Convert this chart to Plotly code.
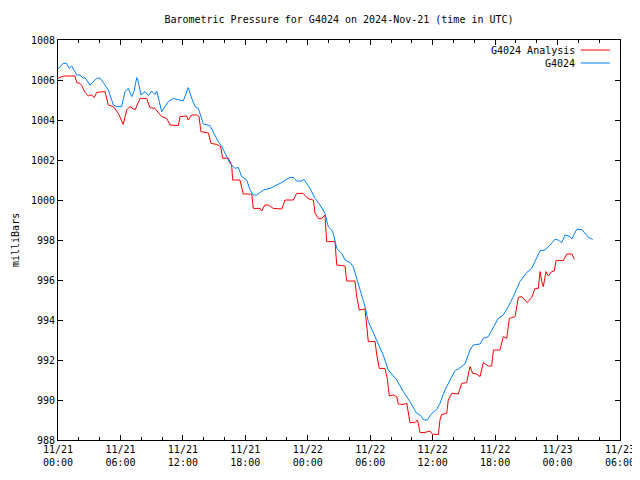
import pandas as pd
import plotly.graph_objects as go

title_text = "Barometric Pressure for G4024 on 2024-Nov-21 (time in UTC)"
y_title = "milliBars"
name_analysis = "G4024 Analysis"
name_station = "G4024"

station_times = [
    "2024-11-21 00:00", "2024-11-21 00:30", "2024-11-21 00:50", "2024-11-21 01:04", "2024-11-21 01:19",
    "2024-11-21 01:48", "2024-11-21 02:07", "2024-11-21 02:26", "2024-11-21 02:36", "2024-11-21 03:04",
    "2024-11-21 03:43", "2024-11-21 04:02", "2024-11-21 04:31", "2024-11-21 04:50", "2024-11-21 05:19",
    "2024-11-21 05:38", "2024-11-21 06:07", "2024-11-21 06:26", "2024-11-21 06:45", "2024-11-21 07:05",
    "2024-11-21 07:18", "2024-11-21 07:34", "2024-11-21 07:43", "2024-11-21 07:58", "2024-11-21 08:22",
    "2024-11-21 08:41", "2024-11-21 09:00", "2024-11-21 09:19", "2024-11-21 09:29", "2024-11-21 09:58",
    "2024-11-21 10:36", "2024-11-21 11:05", "2024-11-21 12:02", "2024-11-21 12:31", "2024-11-21 12:51",
    "2024-11-21 13:10", "2024-11-21 13:29", "2024-11-21 13:39", "2024-11-21 13:58", "2024-11-21 14:36",
    "2024-11-21 15:05", "2024-11-21 15:24", "2024-11-21 15:44", "2024-11-21 16:03", "2024-11-21 16:32",
    "2024-11-21 17:00", "2024-11-21 17:19", "2024-11-21 17:39", "2024-11-21 18:08", "2024-11-21 18:27",
    "2024-11-21 18:46", "2024-11-21 19:05", "2024-11-21 19:44", "2024-11-21 20:22", "2024-11-21 21:20",
    "2024-11-21 22:17", "2024-11-21 22:37", "2024-11-21 22:56", "2024-11-21 23:25", "2024-11-21 23:38",
    "2024-11-22 00:13", "2024-11-22 00:42", "2024-11-22 01:11", "2024-11-22 01:39", "2024-11-22 01:58",
    "2024-11-22 02:18", "2024-11-22 02:27", "2024-11-22 02:47", "2024-11-22 03:16", "2024-11-22 03:35",
    "2024-11-22 04:04", "2024-11-22 04:22", "2024-11-22 04:42", "2024-11-22 05:11", "2024-11-22 05:30",
    "2024-11-22 05:49", "2024-11-22 06:18", "2024-11-22 06:47", "2024-11-22 07:15", "2024-11-22 07:44",
    "2024-11-22 08:33", "2024-11-22 09:11", "2024-11-22 09:49", "2024-11-22 10:28", "2024-11-22 10:47",
    "2024-11-22 10:57", "2024-11-22 11:10", "2024-11-22 11:29", "2024-11-22 11:55", "2024-11-22 12:23",
    "2024-11-22 12:42", "2024-11-22 13:11", "2024-11-22 13:40", "2024-11-22 14:09", "2024-11-22 14:28",
    "2024-11-22 15:06", "2024-11-22 15:35", "2024-11-22 15:54", "2024-11-22 16:33", "2024-11-22 16:52",
    "2024-11-22 17:21", "2024-11-22 17:50", "2024-11-22 18:18", "2024-11-22 18:47", "2024-11-22 19:16",
    "2024-11-22 19:45", "2024-11-22 20:23", "2024-11-22 21:02", "2024-11-22 21:31", "2024-11-22 22:19",
    "2024-11-22 22:48", "2024-11-22 23:17", "2024-11-22 23:45", "2024-11-23 00:04", "2024-11-23 00:24",
    "2024-11-23 00:43", "2024-11-23 01:12", "2024-11-23 01:22", "2024-11-23 01:50", "2024-11-23 02:19",
    "2024-11-23 02:58", "2024-11-23 03:23",
]
station_values = [
    1006.55, 1006.83, 1006.83, 1006.58, 1006.70,
    1006.25, 1006.25, 1006.08, 1006.12, 1005.75,
    1006.08, 1006.10, 1005.75, 1005.50, 1004.75,
    1004.67, 1004.67, 1005.42, 1005.58, 1005.17,
    1005.42, 1006.12, 1005.92, 1005.25, 1005.42,
    1005.22, 1005.45, 1005.28, 1005.45, 1004.42,
    1004.92, 1005.08, 1004.95, 1005.62, 1005.08,
    1004.67, 1004.58, 1004.33, 1003.80, 1003.72,
    1003.20, 1002.92, 1002.68, 1002.35, 1001.83,
    1001.58, 1001.63, 1001.17, 1001.00, 1000.50,
    1000.25, 1000.25, 1000.50, 1000.58, 1000.83,
    1001.13, 1001.13, 1000.95, 1000.95, 1001.03,
    1000.58, 1000.08, 999.75, 999.33, 998.67,
    998.50, 998.33, 997.58, 997.33, 997.00,
    996.87, 996.67, 996.08, 995.33, 994.67,
    993.92, 993.33, 992.83, 992.25, 991.50,
    991.00, 990.42, 989.92, 989.33, 989.25,
    989.15, 989.00, 989.00, 989.33, 989.53,
    989.83, 990.50, 991.00, 991.47, 991.55,
    991.80, 992.50, 992.75, 992.80, 993.08,
    993.17, 993.67, 994.08, 994.25, 994.67,
    995.17, 995.92, 996.37, 996.58, 997.47,
    997.50, 997.75, 998.03, 998.00, 997.87,
    998.25, 998.17, 998.05, 998.53, 998.53,
    998.13, 998.03,
]

analysis_times = [
    "2024-11-21 00:00", "2024-11-21 00:21", "2024-11-21 00:40", "2024-11-21 01:38", "2024-11-21 01:48",
    "2024-11-21 02:07", "2024-11-21 02:17", "2024-11-21 02:36", "2024-11-21 02:55", "2024-11-21 03:14",
    "2024-11-21 03:29", "2024-11-21 03:43", "2024-11-21 04:31", "2024-11-21 04:41", "2024-11-21 04:50",
    "2024-11-21 05:19", "2024-11-21 05:48", "2024-11-21 06:16", "2024-11-21 06:36", "2024-11-21 06:55",
    "2024-11-21 07:24", "2024-11-21 07:53", "2024-11-21 08:31", "2024-11-21 08:50", "2024-11-21 09:19",
    "2024-11-21 09:58", "2024-11-21 10:27", "2024-11-21 10:46", "2024-11-21 11:34", "2024-11-21 11:43",
    "2024-11-21 12:22", "2024-11-21 12:31", "2024-11-21 12:51", "2024-11-21 13:20", "2024-11-21 13:33",
    "2024-11-21 13:44", "2024-11-21 14:27", "2024-11-21 14:42", "2024-11-21 15:15", "2024-11-21 15:38",
    "2024-11-21 15:49", "2024-11-21 16:22", "2024-11-21 16:41", "2024-11-21 16:47", "2024-11-21 17:29",
    "2024-11-21 17:48", "2024-11-21 18:37", "2024-11-21 18:46", "2024-11-21 19:25", "2024-11-21 19:34",
    "2024-11-21 19:53", "2024-11-21 20:12", "2024-11-21 20:41", "2024-11-21 21:30", "2024-11-21 21:49",
    "2024-11-21 22:37", "2024-11-21 22:56", "2024-11-21 23:34", "2024-11-21 23:54", "2024-11-22 00:13",
    "2024-11-22 00:32", "2024-11-22 00:42", "2024-11-22 01:01", "2024-11-22 01:20", "2024-11-22 01:39",
    "2024-11-22 01:49", "2024-11-22 02:08", "2024-11-22 02:37", "2024-11-22 02:47", "2024-11-22 03:35",
    "2024-11-22 03:44", "2024-11-22 04:32", "2024-11-22 04:42", "2024-11-22 04:57", "2024-11-22 05:30",
    "2024-11-22 05:49", "2024-11-22 06:28", "2024-11-22 06:37", "2024-11-22 06:52", "2024-11-22 07:25",
    "2024-11-22 07:38", "2024-11-22 07:50", "2024-11-22 08:13", "2024-11-22 08:33", "2024-11-22 08:42",
    "2024-11-22 09:11", "2024-11-22 09:31", "2024-11-22 09:49", "2024-11-22 10:18", "2024-11-22 10:32",
    "2024-11-22 10:43", "2024-11-22 10:47", "2024-11-22 11:16", "2024-11-22 11:45", "2024-11-22 12:00",
    "2024-11-22 12:33", "2024-11-22 12:42", "2024-11-22 12:52", "2024-11-22 13:21", "2024-11-22 13:30",
    "2024-11-22 13:50", "2024-11-22 14:28", "2024-11-22 14:47", "2024-11-22 15:16", "2024-11-22 15:35",
    "2024-11-22 15:51", "2024-11-22 16:14", "2024-11-22 16:33", "2024-11-22 16:52", "2024-11-22 17:21",
    "2024-11-22 17:40", "2024-11-22 17:50", "2024-11-22 18:28", "2024-11-22 18:47", "2024-11-22 19:07",
    "2024-11-22 19:22", "2024-11-22 19:55", "2024-11-22 20:14", "2024-11-22 20:34", "2024-11-22 21:05",
    "2024-11-22 21:31", "2024-11-22 21:50", "2024-11-22 22:09", "2024-11-22 22:19", "2024-11-22 22:29",
    "2024-11-22 22:38", "2024-11-22 22:53", "2024-11-22 23:07", "2024-11-22 23:26", "2024-11-22 23:41",
    "2024-11-22 23:51", "2024-11-23 00:33", "2024-11-23 00:53", "2024-11-23 01:22", "2024-11-23 01:37",
]
analysis_values = [
    1006.08, 1006.17, 1006.20, 1006.20, 1005.87,
    1005.83, 1005.72, 1005.38, 1005.20, 1005.25,
    1005.13, 1005.38, 1005.42, 1005.08, 1004.75,
    1004.67, 1004.33, 1003.78, 1004.50, 1004.67,
    1004.50, 1005.08, 1005.08, 1004.62, 1004.58,
    1004.17, 1004.08, 1003.75, 1003.72, 1004.17,
    1004.20, 1004.00, 1004.25, 1004.25, 1004.17,
    1003.42, 1003.35, 1002.83, 1002.78, 1002.67,
    1002.08, 1002.10, 1001.75, 1001.00, 1001.00,
    1000.30, 1000.30, 999.58, 999.58, 999.45,
    999.75, 999.75, 999.58, 999.55, 1000.00,
    1000.00, 1000.33, 1000.33, 1000.12, 1000.03,
    1000.00, 999.33, 999.08, 999.08, 999.25,
    997.92, 997.92, 997.92, 996.75, 996.70,
    995.95, 995.95, 995.17, 994.50, 994.55,
    992.92, 992.92, 992.30, 991.58, 991.58,
    991.08, 990.20, 990.25, 990.17, 989.80,
    989.78, 989.83, 988.87, 988.87, 989.00,
    988.58, 988.37, 988.38, 988.45, 988.28,
    988.28, 989.00, 989.28, 989.33, 990.00,
    990.33, 990.30, 990.83, 990.87, 991.67,
    991.33, 991.30, 991.17, 991.87, 991.70,
    991.70, 992.50, 992.50, 993.17, 993.08,
    994.08, 994.17, 995.13, 995.17, 994.87,
    995.13, 995.58, 995.58, 996.42, 995.92,
    995.67, 996.42, 996.20, 996.42, 996.45,
    996.97, 996.97, 997.30, 997.30, 997.03,
]

x_range = ["2024-11-21 00:00", "2024-11-23 06:00"]
y_range = [988, 1008]

FONT = "DejaVu Sans Mono"
RED = "#ff0000"
BLUE = "#0080ff"

fig = go.Figure()
fig.add_trace(go.Scatter(x=pd.to_datetime(analysis_times), y=analysis_values, mode="lines",
                         name=name_analysis, line=dict(color=RED, width=1), showlegend=False))
fig.add_trace(go.Scatter(x=pd.to_datetime(station_times), y=station_values, mode="lines",
                         name=name_station, line=dict(color=BLUE, width=1), showlegend=False))

# gnuplot-style key: right-aligned text followed by line sample
key_items = [(name_analysis, RED, 0.975), (name_station, BLUE, 0.9425)]
for label, color, yp in key_items:
    fig.add_annotation(x=0.924, y=yp, xref="paper", yref="paper", text=label, showarrow=False,
                       xanchor="right", yanchor="middle", font=dict(family=FONT, size=10, color="black"))
    fig.add_shape(type="line", xref="paper", yref="paper", x0=0.930, x1=0.982, y0=yp, y1=yp,
                  line=dict(color=color, width=1))

# y-axis label, gnuplot style
fig.add_annotation(x=-0.0765, y=0.5, xref="paper", yref="paper", text=y_title, showarrow=False,
                   textangle=-90, xanchor="center", yanchor="middle",
                   font=dict(family=FONT, size=10, color="black"))

# the page body adds an 8px offset, so the figure is 8px smaller and margins shifted
fig.update_layout(
    width=632, height=472,
    margin=dict(l=50, r=20, t=32, b=40, autoexpand=False),
    paper_bgcolor="white", plot_bgcolor="white",
    font=dict(family=FONT, size=10, color="black"),
    title=dict(text=title_text, x=0.5237, xanchor="center", y=0.9746, yanchor="middle",
               font=dict(family=FONT, size=10, color="black")),
)
fig.update_xaxes(
    type="date", range=x_range, tick0="2024-11-21 00:00", dtick=6 * 3600 * 1000,
    tickformat="%m/%d<br>%H:%M", ticks="inside", ticklen=5, tickcolor="black",
    showline=True, linecolor="black", linewidth=1, mirror="allticks", showgrid=False, zeroline=False,
    minor=dict(dtick=2 * 3600 * 1000, ticks="inside", ticklen=3, tickcolor="black", showgrid=False),
    tickfont=dict(family=FONT, size=10), automargin=False,
)
fig.update_yaxes(
    range=y_range, dtick=2, ticks="inside", ticklen=5, tickcolor="black",
    showline=True, linecolor="black", linewidth=1, mirror="allticks", showgrid=False, zeroline=False,
    tickfont=dict(family=FONT, size=10), automargin=False,
)

fig.write_html("out.html")
